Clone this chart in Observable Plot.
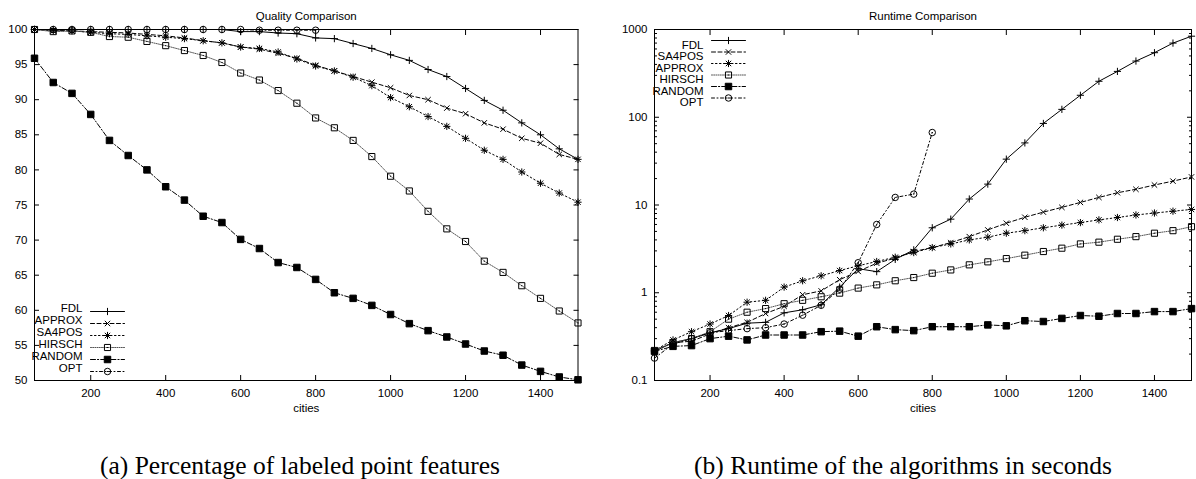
<!DOCTYPE html>
<html><head><meta charset="utf-8">
<script src="https://cdn.jsdelivr.net/npm/d3@7"></script>
<script src="https://cdn.jsdelivr.net/npm/@observablehq/plot@0.6"></script>
<style>
body{margin:0;background:#fff;}
#wrap{position:relative;width:1196px;height:479px;overflow:hidden;background:#fff;}
#left{position:absolute;left:0;top:0;}
#right{position:absolute;left:598px;top:0;}
.cap{position:absolute;top:452px;line-height:28px;font-family:"Liberation Serif","Times New Roman",serif;font-size:25.5px;white-space:nowrap;transform:translateX(-50%);color:#000;}
</style></head>
<body><div id="wrap"><div id="left"></div><div id="right"></div>
<div class="cap" style="left:300px">(a) Percentage of labeled point features</div>
<div class="cap" style="left:903px">(b) Runtime of the algorithms in seconds</div></div>
<script>
// ---------------- data ----------------
const cities = [50,100,150,200,250,300,350,400,450,500,550,600,650,700,750,800,850,900,950,1000,1050,1100,1150,1200,1250,1300,1350,1400,1450,1500];
const citiesOPT = [50,100,150,200,250,300,350,400,450,500,550,600,650,700,750,800];

// Quality (percentage of labeled point features)
const qualityFDL    = [100,100,100,100,100,100,100,100,100,100,100,99.7,99.7,99.5,99.4,98.8,98.7,98.0,97.3,96.4,95.6,94.3,93.3,91.6,89.9,88.5,86.7,85.0,83.0,81.5];
const qualityAPPROX = [100,99.9,99.8,99.7,99.6,99.5,99.3,99.1,98.8,98.4,98.1,97.5,97.2,96.6,95.9,94.9,94.1,93.3,92.5,91.7,90.6,90.0,88.8,88.0,86.7,85.8,84.5,83.8,82.2,81.5];
const qualitySA4POS = [100,99.8,99.8,99.6,99.4,99.3,99.1,98.9,98.7,98.4,98.1,97.5,97.3,96.8,95.8,94.8,94.1,93.2,92.0,90.3,89.0,87.6,86.2,84.5,82.8,81.5,79.7,78.1,76.7,75.4];
const qualityHIRSCH = [100,99.7,99.8,99.6,99.0,98.9,98.3,97.7,97.0,96.3,95.3,93.8,92.8,91.3,89.5,87.4,86.0,84.2,81.9,79.1,77.0,74.1,71.6,69.8,67.0,65.4,63.5,61.7,59.9,58.2];
const qualityRANDOM = [95.9,92.45,90.9,87.9,84.2,82.05,80.0,77.6,75.7,73.4,72.5,70.1,68.8,66.8,66.1,64.4,62.5,61.7,60.7,59.4,58.1,57.1,56.2,55.2,54.2,53.6,52.2,51.3,50.5,50.1];
const qualityOPT    = [100,100,100,100,100,100,100,100,100,100,100,100,99.9,99.9,99.9,99.9];

// Runtime (seconds)
const runtimeFDL    = [0.215,0.27,0.30,0.35,0.39,0.45,0.46,0.59,0.64,0.73,1.16,1.88,1.74,2.4,3.08,5.5,6.9,11.7,17.3,33.3,51,85,123,178,257,333,437,544,700,839];
const runtimeSA4POS = [0.22,0.27,0.28,0.34,0.40,0.46,0.58,0.70,0.95,1.05,1.41,1.75,2.17,2.48,2.95,3.27,3.73,4.36,5.2,6.2,7.25,8.3,9.4,10.7,12.2,13.8,15.1,16.9,18.7,20.9];
const runtimeAPPROX = [0.22,0.29,0.36,0.44,0.55,0.78,0.82,1.16,1.37,1.56,1.79,2.03,2.27,2.54,2.87,3.27,3.6,4.0,4.3,4.77,5.1,5.5,5.9,6.3,6.77,7.2,7.7,8.1,8.5,8.9];
const runtimeHIRSCH = [0.22,0.27,0.30,0.36,0.50,0.60,0.66,0.75,0.82,0.90,0.99,1.13,1.23,1.37,1.49,1.67,1.82,2.08,2.25,2.45,2.68,2.95,3.22,3.6,3.77,4.07,4.36,4.77,5.1,5.66];
const runtimeRANDOM = [0.215,0.245,0.25,0.30,0.32,0.29,0.33,0.33,0.33,0.36,0.365,0.32,0.41,0.38,0.37,0.41,0.41,0.41,0.43,0.42,0.48,0.47,0.51,0.55,0.54,0.58,0.58,0.61,0.61,0.66];
const runtimeOPT    = [0.18,0.26,0.30,0.35,0.37,0.39,0.40,0.44,0.555,0.72,1.1,2.2,6.0,12.2,13.3,67];

const legendLeft  = ["FDL","APPROX","SA4POS","HIRSCH","RANDOM","OPT"];
const legendRight = ["FDL","SA4POS","APPROX","HIRSCH","RANDOM","OPT"];

const xTicks = [200,400,600,800,1000,1200,1400];
const yTicksQuality = [50,55,60,65,70,75,80,85,90,95,100];
const yTicksRuntime = [0.1,1,10,100,1000];
const yMinorRuntime = [0.2,0.3,0.4,0.5,0.6,0.7,0.8,0.9,2,3,4,5,6,7,8,9,20,30,40,50,60,70,80,90,200,300,400,500,600,700,800,900];

// ---------------- styles (by legend row) ----------------
function sym(fn){ return {draw(ctx, size){ fn(ctx, Math.sqrt(size/Math.PI)); }}; }
const plusSym  = sym((c,r)=>{c.moveTo(-r,0);c.lineTo(r,0);c.moveTo(0,-r);c.lineTo(0,r);});
const timesSym = sym((c,r)=>{const a=r*0.75;c.moveTo(-a,-a);c.lineTo(a,a);c.moveTo(-a,a);c.lineTo(a,-a);});
const starSym  = sym((c,r)=>{const a=r*0.75;c.moveTo(-r,0);c.lineTo(r,0);c.moveTo(0,-r);c.lineTo(0,r);c.moveTo(-a,-a);c.lineTo(a,a);c.moveTo(-a,a);c.lineTo(a,-a);});
const boxSym   = sym((c,r)=>{const a=r*0.85;c.rect(-a,-a,2*a,2*a);c.moveTo(-0.6,0);c.lineTo(0.6,0);});
const fboxSym  = sym((c,r)=>{const a=r*0.9;c.rect(-a,-a,2*a,2*a);});
const circSym  = sym((c,r)=>{const a=r*0.9;c.moveTo(a,0);c.arc(0,0,a,0,2*Math.PI);c.moveTo(-0.6,0);c.lineTo(0.6,0);});

const styles = [
  {dash: null,        symbol: plusSym,  fill: "none", stroke: "#000", lineStroke: "#000"},
  {dash: "4,2.5",     symbol: timesSym, fill: "none", stroke: "#000", lineStroke: "#000"},
  {dash: "1.5,2.5",   symbol: starSym,  fill: "none", stroke: "#000", lineStroke: "#000"},
  {dash: "1,1.2",     symbol: boxSym,   fill: "none", stroke: "#000", lineStroke: "#555"},
  {dash: "5,2,1.2,2", symbol: fboxSym,  fill: "#000", stroke: "#000", lineStroke: "#000"},
  {dash: "3,2.5,1,2.5", symbol: circSym,  fill: "none", stroke: "#000", lineStroke: "#000"}
];

const lineShape = {draw(ctx, l){ ctx.moveTo(0,0); ctx.lineTo(0,-l); }};

function seriesRows(xs, ys){ return xs.map((x,i)=>({x, y: ys[i]})); }

function buildPanel({title, series, legend, yScale, yTicks, yFormat, yMinor, marginLeft, marginRight, legendAnchor, legendDy, legendDx}){
  const marks = [];
  series.forEach((s, i) => {
    const st = styles[i];
    const rows = seriesRows(s.x, s.y);
    marks.push(Plot.line(rows, {x:"x", y:"y", stroke: st.lineStroke, strokeWidth: 1, strokeDasharray: st.dash}));
    marks.push(Plot.dot(rows, {x:"x", y:"y", symbol: st.symbol, r: 3.6, fill: st.fill, stroke: st.stroke, strokeWidth: 1}));
  });
  marks.push(Plot.axisX({ticks: xTicks, tickSize: 0, tickPadding: 8, label: null, tickFormat: d => String(d)}));
  marks.push(Plot.axisY({ticks: yTicks, tickSize: 0, tickPadding: 7, label: null, tickFormat: yFormat}));
  marks.push(Plot.axisX({anchor: "bottom", ticks: xTicks, tickSize: -5, fill: "none", label: null}));
  marks.push(Plot.axisX({anchor: "top", ticks: xTicks, tickSize: -5, fill: "none", label: null}));
  marks.push(Plot.axisY({anchor: "left", ticks: yTicks, tickSize: -5, fill: "none", label: null}));
  marks.push(Plot.axisY({anchor: "right", ticks: yTicks, tickSize: -5, fill: "none", label: null}));
  if (yMinor) {
    marks.push(Plot.axisY({anchor: "left", ticks: yMinor, tickSize: -3, fill: "none", label: null}));
    marks.push(Plot.axisY({anchor: "right", ticks: yMinor, tickSize: -3, fill: "none", label: null}));
  }
  marks.push(Plot.frame({stroke: "#000", strokeWidth: 1}));
  marks.push(Plot.text([title], {frameAnchor: "top", dy: -17.5, fill: "#000"}));
  marks.push(Plot.text(["cities"], {frameAnchor: "bottom", dy: 31, fill: "#000"}));
  legend.forEach((name, i) => {
    const st = styles[i];
    const dy = legendDy[i];
    marks.push(Plot.text([name], {frameAnchor: legendAnchor, dx: legendDx, dy, textAnchor: "end", fill: "#000"}));
    marks.push(Plot.vector([0], {frameAnchor: legendAnchor, dx: legendDx + 8, dy, length: 34, rotate: 90, anchor: "start", shape: lineShape, stroke: st.lineStroke, strokeWidth: 1, strokeDasharray: st.dash}));
    marks.push(Plot.dot([0], {frameAnchor: legendAnchor, dx: legendDx + 25, dy, symbol: st.symbol, r: 3.6, fill: st.fill, stroke: st.stroke, strokeWidth: 1}));
  });
  return Plot.plot({
    width: 598, height: 420,
    marginLeft, marginRight, marginTop: 29, marginBottom: 40,
    style: {fontFamily: "'Liberation Sans', Arial, sans-serif", fontSize: "11.5px", color: "#000", background: "#fff"},
    x: {domain: [50, 1500], label: null},
    y: yScale,
    marks
  });
}

const leftSeries = [
  {x: cities, y: qualityFDL},
  {x: cities, y: qualityAPPROX},
  {x: cities, y: qualitySA4POS},
  {x: cities, y: qualityHIRSCH},
  {x: cities, y: qualityRANDOM},
  {x: citiesOPT, y: qualityOPT}
];
const rightSeries = [
  {x: cities, y: runtimeFDL},
  {x: cities, y: runtimeSA4POS},
  {x: cities, y: runtimeAPPROX},
  {x: cities, y: runtimeHIRSCH},
  {x: cities, y: runtimeRANDOM},
  {x: citiesOPT, y: runtimeOPT}
];

document.getElementById("left").append(buildPanel({
  title: "Quality Comparison", series: leftSeries, legend: legendLeft,
  yScale: {domain: [50, 100], label: null}, yTicks: yTicksQuality, yFormat: d => String(d), yMinor: null,
  marginLeft: 34, marginRight: 20.5,
  legendAnchor: "bottom-left", legendDx: 48, legendDy: [-69,-57,-45,-33,-21,-9]
}));
document.getElementById("right").append(buildPanel({
  title: "Runtime Comparison", series: rightSeries, legend: legendRight,
  yScale: {type: "log", domain: [0.1, 1000], label: null}, yTicks: yTicksRuntime, yFormat: d => String(d), yMinor: yMinorRuntime,
  marginLeft: 56, marginRight: 5,
  legendAnchor: "top-left", legendDx: 49, legendDy: [11,22.5,34,45.5,57,68.5]
}));
</script>
</body></html>
